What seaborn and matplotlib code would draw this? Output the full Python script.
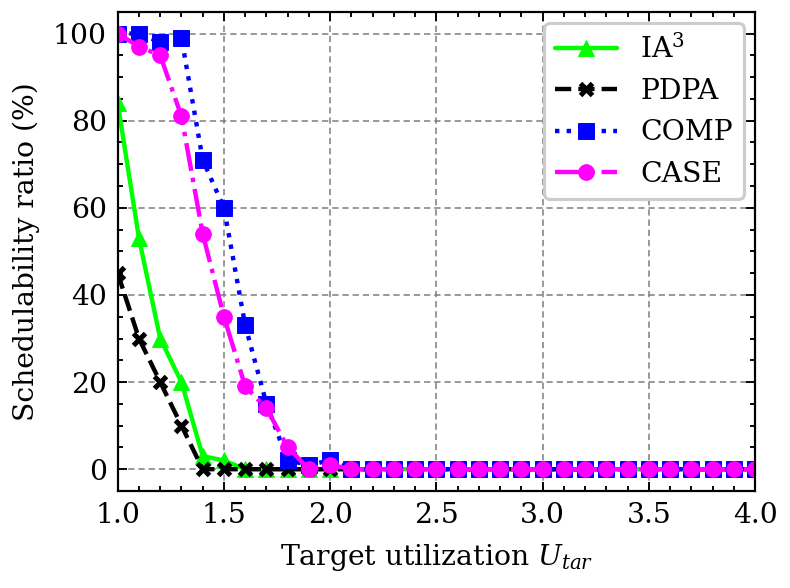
import matplotlib
matplotlib.use("Agg")
import matplotlib.pyplot as plt
import seaborn as sns
import pandas as pd
from matplotlib.ticker import MultipleLocator

# data
u_tar = [round(1.0 + 0.1 * i, 1) for i in range(31)]
tail = [0] * 19
ia3 = [84, 53, 30, 20, 3, 2, 0, 0, 0, 0, 0, 0] + tail
pdpa = [45, 30, 20, 10, 0, 0, 0, 0, 0, 0, 0, 0] + tail
comp = [100, 100, 98, 99, 71, 60, 33, 15, 2, 1, 2, 0] + tail
case = [100, 97, 95, 81, 54, 35, 19, 14, 5, 0, 1, 0] + tail

series = [
    ("IA$^3$", ia3, "#00ff00", "-", "^", 5),
    ("PDPA", pdpa, "black", "--", "x", 4),
    ("COMP", comp, "blue", ":", "s", 5),
    ("CASE", case, "magenta", "-.", "o", 5),
]

sns.set_style("ticks")
plt.rcParams["font.family"] = ["DejaVu Serif"]
plt.rcParams["mathtext.fontset"] = "dejavuserif"
plt.rcParams["font.size"] = 9
for k in ["text.color", "axes.labelcolor", "xtick.color", "ytick.color", "axes.edgecolor"]:
    plt.rcParams[k] = "black"

fig, ax = plt.subplots(figsize=(790 / 226, 588 / 226), dpi=226)
fig.subplots_adjust(left=0.149, right=0.956, top=0.980, bottom=0.165)

for name, vals, color, ls, mk, ms in series:
    df = pd.DataFrame({"u": u_tar, "ratio": vals})
    sns.lineplot(data=df, x="u", y="ratio", ax=ax, color=color, linestyle=ls,
                 marker=mk, markersize=ms, linewidth=1.4, label=name,
                 markeredgewidth=1.6 if mk == "x" else 0.3,
                 markeredgecolor=color)

ax.set_xlim(1.0, 4.0)
ax.set_ylim(-5, 105)
ax.xaxis.set_major_locator(MultipleLocator(0.5))
ax.xaxis.set_minor_locator(MultipleLocator(0.1))
ax.yaxis.set_major_locator(MultipleLocator(20))
ax.yaxis.set_minor_locator(MultipleLocator(5))
ax.tick_params(which="both", direction="in", top=True, right=True, width=0.6)
ax.tick_params(which="major", length=3)
ax.tick_params(which="minor", length=1.5)
for sp in ax.spines.values():
    sp.set_linewidth(0.7)
ax.grid(True, which="major", linestyle=(0, (4, 2.5)), color="gray", linewidth=0.5)

ax.set_xlabel("Target utilization $U_{tar}$")
ax.set_ylabel("Schedulability ratio (%)")
leg = ax.legend(loc="upper right", frameon=True, fancybox=True, edgecolor="#cccccc",
                framealpha=1.0, handlelength=2.2, borderaxespad=0.4)
leg.get_frame().set_linewidth(1.0)

fig.savefig("out.png", dpi=226)
